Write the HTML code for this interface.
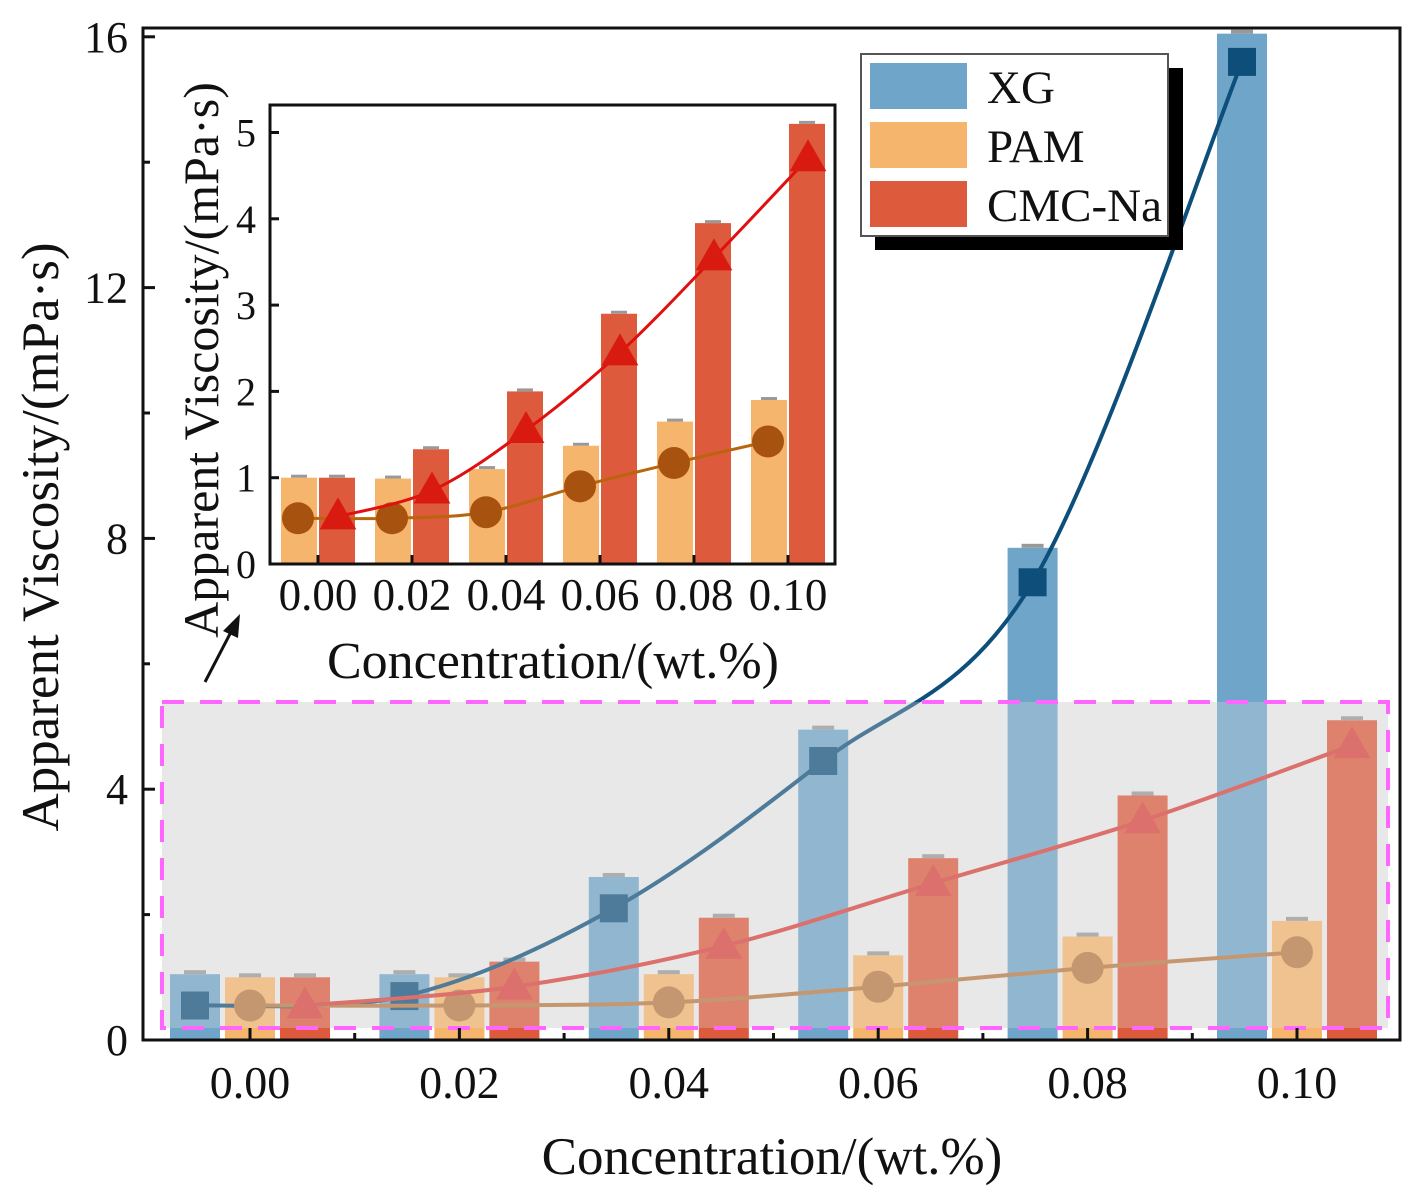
<!DOCTYPE html>
<html><head><meta charset="utf-8"><style>
body{margin:0;background:#fff}
svg text{font-family:"Liberation Serif",serif;fill:#111}
</style></head><body>
<svg id="c" width="1420" height="1195" xmlns="http://www.w3.org/2000/svg"></svg>
<script>
const categories=["0.00","0.02","0.04","0.06","0.08","0.10"];
const xgBars=[1.05,1.05,2.6,4.95,7.85,16.05];
const xgPts=[0.55,0.7,2.1,4.45,7.3,15.6];
const pamBars=[1.0,1.0,1.05,1.35,1.65,1.9];
const pamPts=[0.55,0.55,0.6,0.85,1.15,1.4];
const cmcBars=[1.0,1.25,1.95,2.9,3.9,5.1];
const cmcPts=[0.55,0.85,1.5,2.5,3.5,4.7];
const mainYTicks=[0,4,8,12,16];
const inPamBars=[1.0,0.99,1.1,1.37,1.65,1.9];
const inCmcBars=[1.0,1.33,2.0,2.9,3.95,5.1];
const inPamPts=[0.53,0.53,0.6,0.9,1.17,1.42];
const inCmcPts=[0.55,0.85,1.55,2.45,3.55,4.7];
const insetYTicks=[0,1,2,3,4,5];

const S=document.getElementById('c');const NS="http://www.w3.org/2000/svg";
function el(t,a,p){const e=document.createElementNS(NS,t);for(const k in a)e.setAttribute(k,a[k]);(p||S).appendChild(e);return e;}
function txt(s,x,y,size,anchor,p){const e=el('text',{x:x,y:y,'font-size':size,'text-anchor':anchor||'middle'},p);e.textContent=s;return e;}
function curve(pts){let d="M"+pts[0][0]+","+pts[0][1];for(let i=0;i<pts.length-1;i++){const p0=pts[Math.max(0,i-1)],p1=pts[i],p2=pts[i+1],p3=pts[Math.min(pts.length-1,i+2)];const c1=[p1[0]+(p2[0]-p0[0])/6,p1[1]+(p2[1]-p0[1])/6],c2=[p2[0]-(p3[0]-p1[0])/6,p2[1]-(p3[1]-p1[1])/6];d+=` C${c1} ${c2} ${p2}`;}return d;}

const mx=i=>250+i*209.4, my=v=>1040-v*62.7;
const main=el('g',{});


el('rect',{x:162,y:702,width:1226,height:326,fill:'#ebebeb'},main);
function bars(vals,off,col,name){vals.forEach((v,i)=>{const x=mx(i)+off;
 const r=el('rect',{x:x-25,y:my(v),width:50,height:1040-my(v),fill:col},main);
 
 
 el('rect',{x:x-11,y:my(v)-4,width:22,height:4,fill:'#999'},main);});}
bars(xgBars,-55,'#6fa5c9','xg');bars(pamBars,0,'#f5b56c','pam');bars(cmcBars,55,'#dd5a3c','cmc');
function series(vals,off,col,mk,mcol,name,xf,yf,sz,par,sw){const pts=vals.map((v,i)=>[xf(i)+off,yf(v)]);
 const l=el('path',{d:curve(pts),fill:'none',stroke:col,'stroke-width':sw||3},par);
 
 
 pts.forEach((p,i)=>{let m;
  if(mk=='s')m=el('rect',{x:p[0]-sz,y:p[1]-sz,width:2*sz,height:2*sz,fill:mcol},par);
  else if(mk=='c')m=el('circle',{cx:p[0],cy:p[1],r:sz,fill:mcol},par);
  else m=el('polygon',{points:`${p[0]},${p[1]-sz*1.2} ${p[0]-sz*1.15},${p[1]+sz*0.8} ${p[0]+sz*1.15},${p[1]+sz*0.8}`,fill:mcol},par);
  
  });}
series(xgPts,-55,'#0d4f7a','s','#0d4f7a','xg',mx,my,14,main,4);
series(pamPts,0,'#b9783f','c','#b9783f','pam',mx,my,16,main,4);
series(cmcPts,55,'#d8403a','t','#d8403a','cmc',mx,my,16,main,4);
const ov=el('rect',{x:162,y:702,width:1226,height:326,fill:'rgb(225,225,225)','fill-opacity':0.3,stroke:'#ff66ff','stroke-width':4,'stroke-dasharray':'22,16'});


el('rect',{x:143,y:28,width:1257,height:1012,fill:'none',stroke:'#111','stroke-width':3});
mainYTicks.forEach(v=>{el('line',{x1:143,x2:155,y1:my(v),y2:my(v),stroke:'#111','stroke-width':3});
 const t=txt(String(v),128,my(v)+15,44,'end');
 if(v<16){el('line',{x1:143,x2:150,y1:my(v+2),y2:my(v+2),stroke:'#111','stroke-width':3});}});
categories.forEach((c,i)=>{el('line',{x1:mx(i),x2:mx(i),y1:1040,y2:1028,stroke:'#111','stroke-width':3});
 if(i<5)el('line',{x1:mx(i)+104.7,x2:mx(i)+104.7,y1:1040,y2:1033,stroke:'#111','stroke-width':3});
 const t=txt(c,mx(i),1098,46);});
let t=txt('Concentration/(wt.%)',772,1174,53);
t=txt('Apparent Viscosity/(mPa·s)',0,0,53);t.setAttribute('transform','translate(58,537) rotate(-90)');

const lg=el('g',{});


el('rect',{x:875,y:68,width:308,height:182,fill:'#000'},lg);
el('rect',{x:861,y:54,width:307,height:182,fill:'#fff',stroke:'#555','stroke-width':2},lg);
[['XG','#6fa5c9'],['PAM','#f5b56c'],['CMC-Na','#dd5a3c']].forEach((e,i)=>{
 const r=el('rect',{x:870,y:63+i*59,width:97,height:46,fill:e[1]},lg);
 
 
 const tt=txt(e[0],987,103+i*59,47,'start',lg);});

const ix=i=>318+i*94, iy=v=>564-v*86.3;
const ins=el('g',{});


el('rect',{x:270,y:105,width:565,height:459,fill:'#fff'},ins);
function ibars(vals,off,col,name){vals.forEach((v,i)=>{const x=ix(i)+off;
 const r=el('rect',{x:x-18,y:iy(v),width:36,height:564-iy(v),fill:col},ins);
 
 
 el('rect',{x:x-8,y:iy(v)-3,width:16,height:3,fill:'#999'},ins);});}
ibars(inPamBars,-19,'#f5b56c','pam');ibars(inCmcBars,19,'#dd5a3c','cmc');
series(inPamPts,-20,'#b9650e','c','#a8520f','inset-pam',ix,iy,16,ins,3);
series(inCmcPts,20,'#e01010','t','#d91a10','inset-cmc',ix,iy,16,ins,3);
el('rect',{x:270,y:105,width:565,height:459,fill:'none',stroke:'#111','stroke-width':3},ins);
insetYTicks.forEach(v=>{el('line',{x1:270,x2:279,y1:iy(v),y2:iy(v),stroke:'#111','stroke-width':3},ins);
 const tt=txt(String(v),256,iy(v)+14,40,'end',ins);});
categories.forEach((c,i)=>{el('line',{x1:ix(i),x2:ix(i),y1:564,y2:555,stroke:'#111','stroke-width':3},ins);
 const tt=txt(c,ix(i),610,45,'middle',ins);});
t=txt('Concentration/(wt.%)',553,678,52,'middle',ins);
t=txt('Apparent Viscosity/(mPa·s)',0,0,50,'middle',ins);t.setAttribute('transform','translate(218,360) rotate(-90)');
const ar=el('g',{});


el('line',{x1:205,y1:682,x2:232,y2:630,stroke:'#111','stroke-width':3},ar);
el('polygon',{points:'240,614 223,631 238,638',fill:'#111'},ar);
</script>
</body></html>
